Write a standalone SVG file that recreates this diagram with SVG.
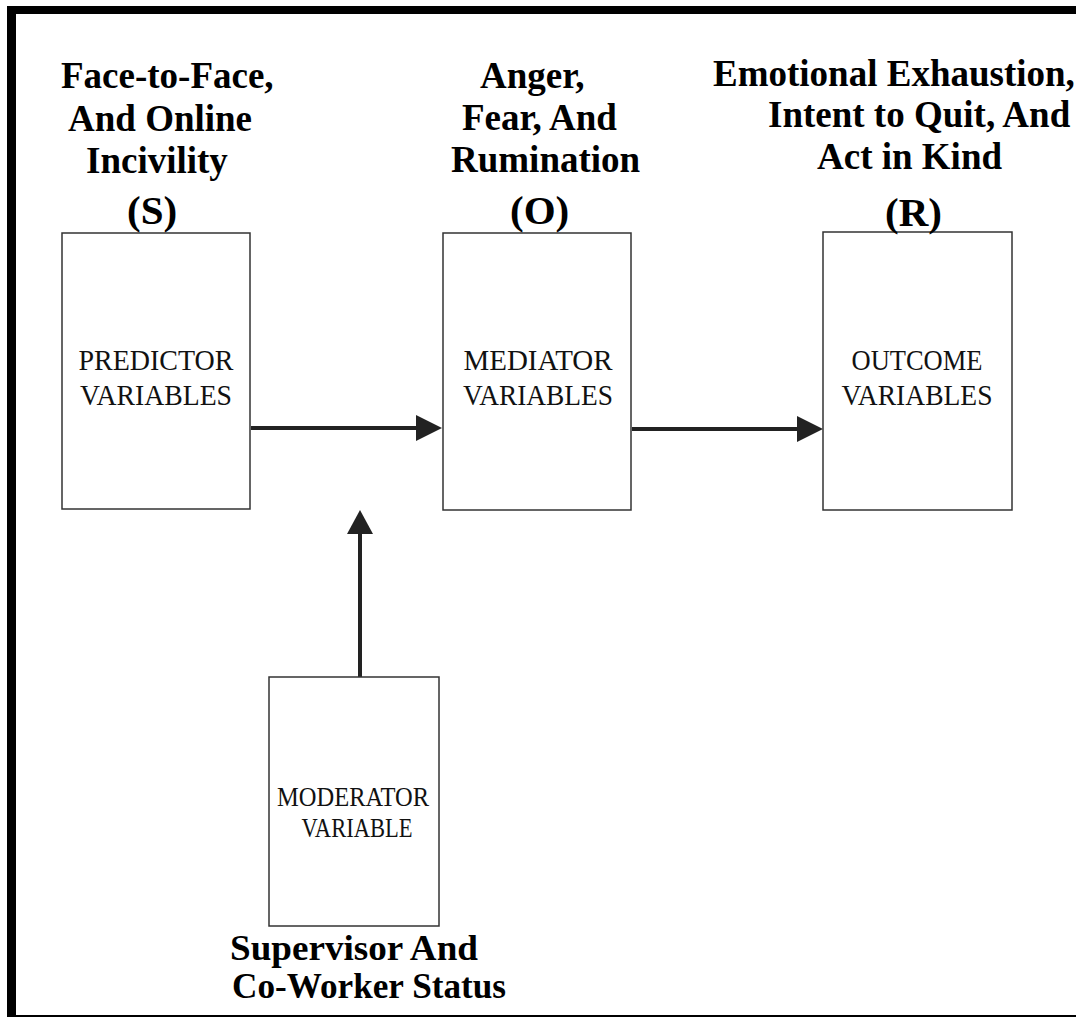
<svg xmlns="http://www.w3.org/2000/svg" width="1076" height="1017" viewBox="0 0 1076 1017">
<defs>
<style>
.frame{fill:#000}
.box{fill:#fff;stroke:#333;stroke-width:1.5}
.boxtxt{font-family:"Liberation Serif","Times New Roman",serif;font-size:30px;fill:#111;text-anchor:middle}
.modtxt{font-family:"Liberation Serif","Times New Roman",serif;font-size:28px;fill:#111;text-anchor:middle}
.head{font-family:"Liberation Serif","Times New Roman",serif;font-size:37px;font-weight:bold;fill:#000}
.foot{font-family:"Liberation Serif","Times New Roman",serif;font-size:36px;font-weight:bold;fill:#000}
.tag{font-family:"Liberation Serif","Times New Roman",serif;font-size:41px;font-weight:bold;fill:#000}
.conn{stroke:#222;stroke-width:4;fill:none}
.head-arrow{fill:#222}
</style>
</defs>
<rect x="0" y="0" width="1076" height="1017" fill="#fff"/>
<g id="frame">
<rect class="frame" x="7" y="6" width="1069" height="8"/>
<rect class="frame" x="7" y="6" width="9" height="1011"/>
<rect class="frame" x="7" y="1015" width="1069" height="2"/>
</g>
<g id="connectors">
<line class="conn" x1="251" y1="428" x2="418" y2="428"/>
<polygon class="head-arrow" points="416,415 442,428 416,441"/>
<line class="conn" x1="632" y1="429" x2="799" y2="429"/>
<polygon class="head-arrow" points="797,416 823,429 797,442"/>
<line class="conn" x1="360" y1="677" x2="360" y2="530"/>
<polygon class="head-arrow" points="360,510 347,534 373,534"/>
</g>
<g id="predictor">
<rect class="box" x="62" y="233" width="188" height="276"/>
<text class="boxtxt" x="156" y="370" textLength="155" lengthAdjust="spacingAndGlyphs">PREDICTOR</text>
<text class="boxtxt" x="156" y="405" textLength="152" lengthAdjust="spacingAndGlyphs">VARIABLES</text>
</g>
<g id="mediator">
<rect class="box" x="443" y="233" width="188" height="277"/>
<text class="boxtxt" x="538" y="370" textLength="149" lengthAdjust="spacingAndGlyphs">MEDIATOR</text>
<text class="boxtxt" x="538" y="405" textLength="150" lengthAdjust="spacingAndGlyphs">VARIABLES</text>
</g>
<g id="outcome">
<rect class="box" x="823" y="232" width="189" height="278"/>
<text class="boxtxt" x="917" y="370" textLength="131" lengthAdjust="spacingAndGlyphs">OUTCOME</text>
<text class="boxtxt" x="917" y="405" textLength="151" lengthAdjust="spacingAndGlyphs">VARIABLES</text>
</g>
<g id="moderator">
<rect class="box" x="269" y="677" width="170" height="249"/>
<text class="modtxt" x="353" y="806" textLength="152" lengthAdjust="spacingAndGlyphs">MODERATOR</text>
<text class="modtxt" x="357" y="837" textLength="111" lengthAdjust="spacingAndGlyphs">VARIABLE</text>
</g>
<g id="label-s">
<text class="head" x="61" y="88">Face-to-Face,</text>
<text class="head" x="68" y="131">And Online</text>
<text class="head" x="86" y="173">Incivility</text>
<text class="tag" x="127" y="224">(S)</text>
</g>
<g id="label-o">
<text class="head" x="480" y="88">Anger,</text>
<text class="head" x="462" y="130">Fear, And</text>
<text class="head" x="451" y="172">Rumination</text>
<text class="tag" x="510" y="224">(O)</text>
</g>
<g id="label-r">
<text class="head" x="713" y="86">Emotional Exhaustion,</text>
<text class="head" x="768" y="127">Intent to Quit, And</text>
<text class="head" x="817" y="169">Act in Kind</text>
<text class="tag" x="885" y="226">(R)</text>
</g>
<g id="label-moderator">
<text class="foot" x="230" y="960" textLength="248" lengthAdjust="spacingAndGlyphs">Supervisor And</text>
<text class="foot" x="232" y="998" textLength="274" lengthAdjust="spacingAndGlyphs">Co-Worker Status</text>
</g>
</svg>
